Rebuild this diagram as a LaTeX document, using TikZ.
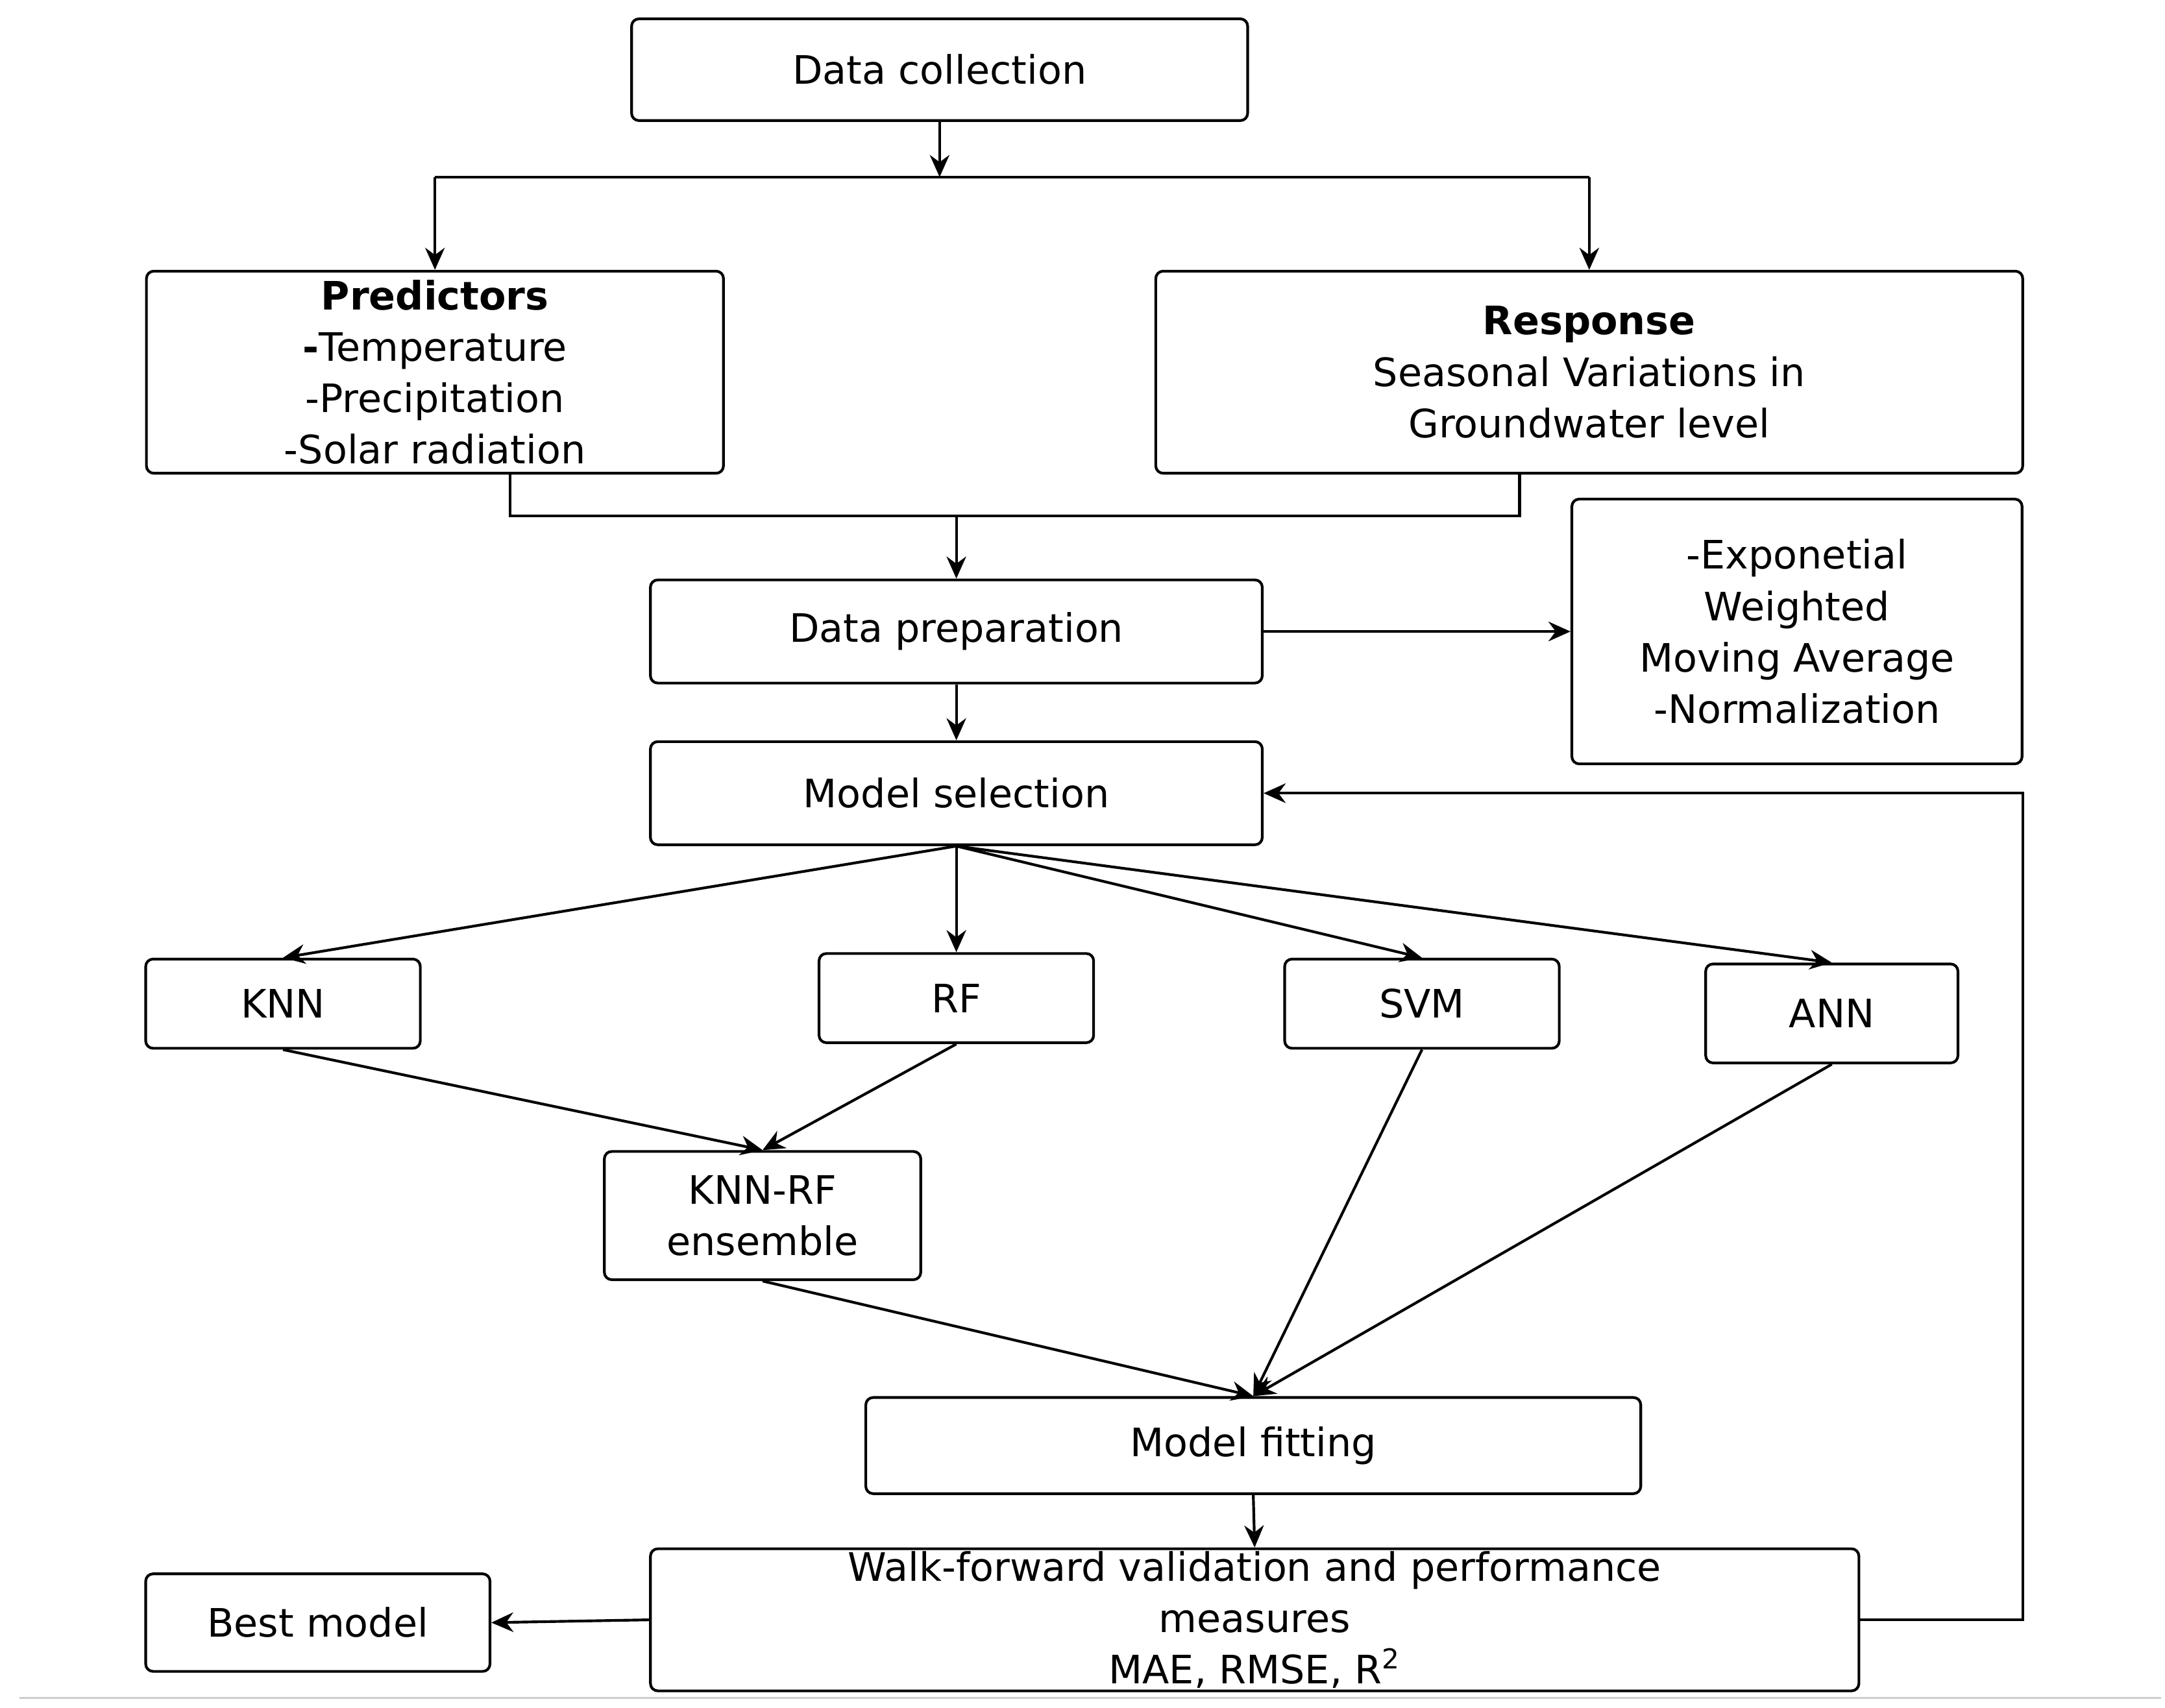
\documentclass[tikz,border=0pt]{standalone}
\usepackage{fontspec}
\setmainfont{DejaVu Sans}
\usetikzlibrary{arrows.meta}
\begin{document}
\begin{tikzpicture}[x=0.02cm,y=-0.02cm,
 box/.style={draw,line width=1.1pt,rounded corners=3pt,align=center,inner sep=1pt,font=\fontsize{16}{21}\selectfont},
 con/.style={line width=1.1pt},
 arr/.style={line width=1.1pt,-{Stealth[length=9pt,width=8pt]}}]
\useasboundingbox[fill=white] (0,0) rectangle (1553,1225);
\draw[gray!40,line width=1pt] (14,1218) -- (1550,1218);
\node[box,minimum width=8.84cm,minimum height=1.46cm] (dc) at (674,50) {Data collection};
\node[box,minimum width=8.28cm,minimum height=2.9cm] (pr) at (312,267) {\textbf{Predictors}\\\textbf{-}Temperature\\-Precipitation\\-Solar radiation};
\node[box,minimum width=12.44cm,minimum height=2.9cm] (re) at (1140,267) {\textbf{Response}\\Seasonal Variations in\\Groundwater level};
\node[box,minimum width=8.78cm,minimum height=1.48cm] (dp) at (686,453) {Data preparation};
\node[box,minimum width=6.46cm,minimum height=3.8cm] (no) at (1289,453) {-Exponetial\\Weighted\\Moving Average\\-Normalization};
\node[box,minimum width=8.78cm,minimum height=1.48cm] (ms) at (686,569) {Model selection};
\node[box,minimum width=3.94cm,minimum height=1.28cm] (knn) at (203,720) {KNN};
\node[box,minimum width=3.94cm,minimum height=1.28cm] (rf) at (686,716) {RF};
\node[box,minimum width=3.94cm,minimum height=1.28cm] (svm) at (1020,720) {SVM};
\node[box,minimum width=3.62cm,minimum height=1.42cm] (ann) at (1314,727) {ANN};
\node[box,minimum width=4.54cm,minimum height=1.84cm] (kr) at (547,872) {KNN-RF\\ensemble};
\node[box,minimum width=11.12cm,minimum height=1.38cm] (mf) at (899,1037) {Model fitting};
\node[box,minimum width=17.34cm,minimum height=2.0cm] (wf) at (900,1162) {Walk-forward validation and performance\\measures\\MAE, RMSE, R\textsuperscript{2}};
\node[box,minimum width=4.94cm,minimum height=1.4cm] (bm) at (228,1164) {Best model};
\coordinate (j1) at (674,127);
\coordinate (jl) at (312,127);
\coordinate (jr) at (1140,127);
\coordinate (p1) at (366,370);
\coordinate (p2) at (1090,370);
\coordinate (pm) at (686,370);
\coordinate (f1) at (1451,1162);
\coordinate (f2) at (1451,569);
\draw[arr] (dc.south) -- (j1);
\draw[con] (jl) -- (jr);
\draw[arr] (jl) -- (pr.north);
\draw[arr] (jr) -- (re.north);
\draw[con] (pr.south -| p1) -- (p1) -- (p2) -- (re.south -| p2);
\draw[arr] (pm) -- (dp.north);
\draw[arr] (dp.east) -- (no.west);
\draw[arr] (dp.south) -- (ms.north);
\draw[arr] (ms.south) -- (knn.north);
\draw[arr] (ms.south) -- (rf.north);
\draw[arr] (ms.south) -- (svm.north);
\draw[arr] (ms.south) -- (ann.north);
\draw[arr] (knn.south) -- (kr.north);
\draw[arr] (rf.south) -- (kr.north);
\draw[arr] (kr.south) -- (mf.north);
\draw[arr] (svm.south) -- (mf.north);
\draw[arr] (ann.south) -- (mf.north);
\draw[arr] (mf.south) -- (wf.north);
\draw[arr] (wf.west) -- (bm.east);
\draw[arr] (wf.east) -- (f1) -- (f2) -- (ms.east);
\end{tikzpicture}
\end{document}
